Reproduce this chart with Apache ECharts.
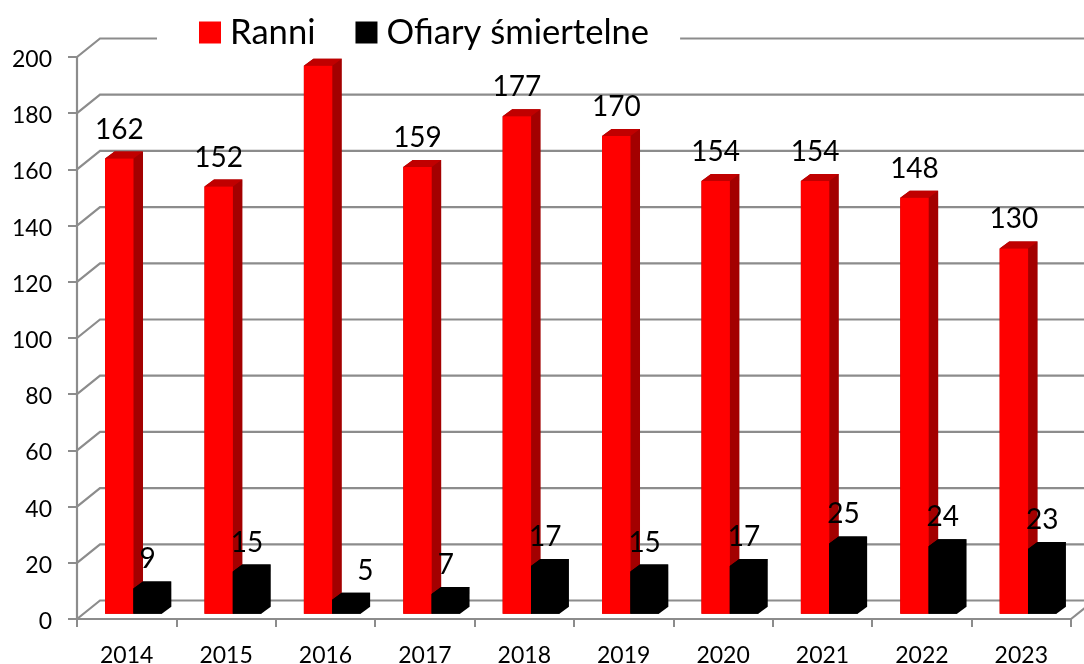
<!DOCTYPE html>
<html>
<head>
<meta charset="utf-8">
<title>Ranni i ofiary</title>
<style>
  html, body { margin: 0; padding: 0; background: #fff; }
  #chart { width: 1084px; height: 664px; }
</style>
<script src="https://cdn.jsdelivr.net/npm/echarts@6/dist/echarts.min.js"></script>
</head>
<body>
<div id="chart"></div>
<script>
var years = ['2014', '2015', '2016', '2017', '2018', '2019', '2020', '2021', '2022', '2023'];
var ranni = [162, 152, 195, 159, 177, 170, 154, 154, 148, 130];
var ofiary = [9, 15, 5, 7, 17, 15, 17, 25, 24, 23];
var yTicks = [0, 20, 40, 60, 80, 100, 120, 140, 160, 180, 200];

var FONT = 'Lato, "Noto Sans", sans-serif';
var GREY = '#8c8c8c';
var WALL_DX = 23, WALL_DY = 18.5;   // przesuniecie tylnej sciany
var DEPTH_X = 9.5, DEPTH_Y = 7;     // glebokosc slupka
var FLOOR = 5.3;                    // slupki stoja troche nad osia

// back wall lines, one per tick
function renderWall(params, api) {
    var p = api.coord([0, api.value(1)]);
    var x0 = params.coordSys.x;
    var x1 = x0 + params.coordSys.width;
    var lineStyle = { stroke: GREY, lineWidth: 2.2, fill: null };
    var children = [{
        type: 'polyline',
        shape: { points: [[x0, p[1]], [x0 + WALL_DX, p[1] - WALL_DY], [x1 + WALL_DX, p[1] - WALL_DY]] },
        style: lineStyle
    }];
    if (api.value(1) === 0) {
        children.push({
            type: 'line',
            shape: { x1: x1, y1: p[1], x2: x1 + WALL_DX, y2: p[1] - WALL_DY },
            style: lineStyle
        });
    }
    return { type: 'group', children: children };
}

function bar3d(shift, front, top, side, labelShift) {
    return function (params, api) {
        var val = api.value(1);
        var p = api.coord([api.value(0), val]);
        var base = api.coord([api.value(0), 0])[1] - FLOOR;
        var band = api.size([1, 0])[0];
        var w = band * 0.286;
        var x = p[0] + band * shift;
        var y = p[1] - FLOOR;
        var children = [{
            // caly obrys pod spodem, zeby nie bylo jasnych szwow
            type: 'polygon',
            shape: { points: [[x, base], [x, y], [x + DEPTH_X, y - DEPTH_Y], [x + w + DEPTH_X, y - DEPTH_Y], [x + w + DEPTH_X, base - DEPTH_Y], [x + w, base]] },
            style: { fill: side }
        }, {
            type: 'polygon',
            shape: { points: [[x, y], [x + DEPTH_X, y - DEPTH_Y], [x + w + DEPTH_X, y - DEPTH_Y], [x + w, y]] },
            style: { fill: top }
        }, {
            type: 'rect',
            shape: { x: x, y: y, width: w, height: base - y },
            style: { fill: front }
        }];
        // slupek 2016 nie ma etykiety, wychodzi poza wykres
        if (y - 29 > 60) {
            children.push({
                type: 'text',
                style: {
                    text: String(val),
                    x: x + w / 2 + (labelShift[params.dataIndex] || 0),
                    y: y - 29,
                    textAlign: 'center',
                    textVerticalAlign: 'middle',
                    fill: '#000',
                    font: '28px ' + FONT
                }
            });
        }
        return { type: 'group', children: children };
    };
}

function pairs(values) {
    return values.map(function (v, i) { return [i, v]; });
}

var myChart = echarts.init(document.getElementById('chart'), null, { renderer: 'canvas' });
var option = {
    animation: false,
    backgroundColor: '#fff',
    grid: { left: 77, right: 13, top: 57, bottom: 45, outerBoundsMode: 'none' },
    legend: {
        data: ['Ranni', 'Ofiary śmiertelne'],
        left: 157,
        top: 8,
        padding: [7, 31, 5, 42],
        backgroundColor: '#fff',
        itemWidth: 22,
        itemHeight: 22,
        itemGap: 40,
        icon: 'rect',
        textStyle: { fontFamily: FONT, fontSize: 34.6, color: '#000', padding: [0, 0, 0, 4] },
        z: 10
    },
    xAxis: {
        type: 'category',
        data: years,
        axisLine: { lineStyle: { color: GREY, width: 2.2 } },
        axisTick: { show: true, length: 8, lineStyle: { color: GREY, width: 2 } },
        axisLabel: { fontFamily: FONT, fontSize: 23, color: '#000', margin: 25 }
    },
    yAxis: {
        type: 'value',
        min: 0,
        max: 200,
        interval: 20,
        splitLine: { show: false },
        axisLine: { show: true, lineStyle: { color: GREY, width: 2.2 } },
        axisTick: { show: true, length: 9, lineStyle: { color: GREY, width: 2 } },
        axisLabel: {
            margin: 25,
            formatter: '{v|{value}}',
            rich: { v: { fontFamily: FONT, fontSize: 23, color: '#000', lineHeight: 23, padding: [5, 0, 0, 0] } }
        }
    },
    series: [{
        type: 'custom',
        z: 1,
        silent: true,
        renderItem: renderWall,
        data: yTicks.map(function (t) { return [0, t]; }),
        encode: { x: 0, y: 1 }
    }, {
        name: 'Ranni',
        type: 'custom',
        z: 2,
        itemStyle: { color: '#ff0000' },
        renderItem: bar3d(-0.2175, '#ff0000', '#c00000', '#a30000', {}),
        data: pairs(ranni),
        encode: { x: 0, y: 1 }
    }, {
        name: 'Ofiary śmiertelne',
        type: 'custom',
        z: 3,
        itemStyle: { color: '#000000' },
        renderItem: bar3d(0.0675, '#000', '#000', '#000', { 2: 19 }),
        data: pairs(ofiary),
        encode: { x: 0, y: 1 }
    }]
};
myChart.setOption(option);
</script>
</body>
</html>
